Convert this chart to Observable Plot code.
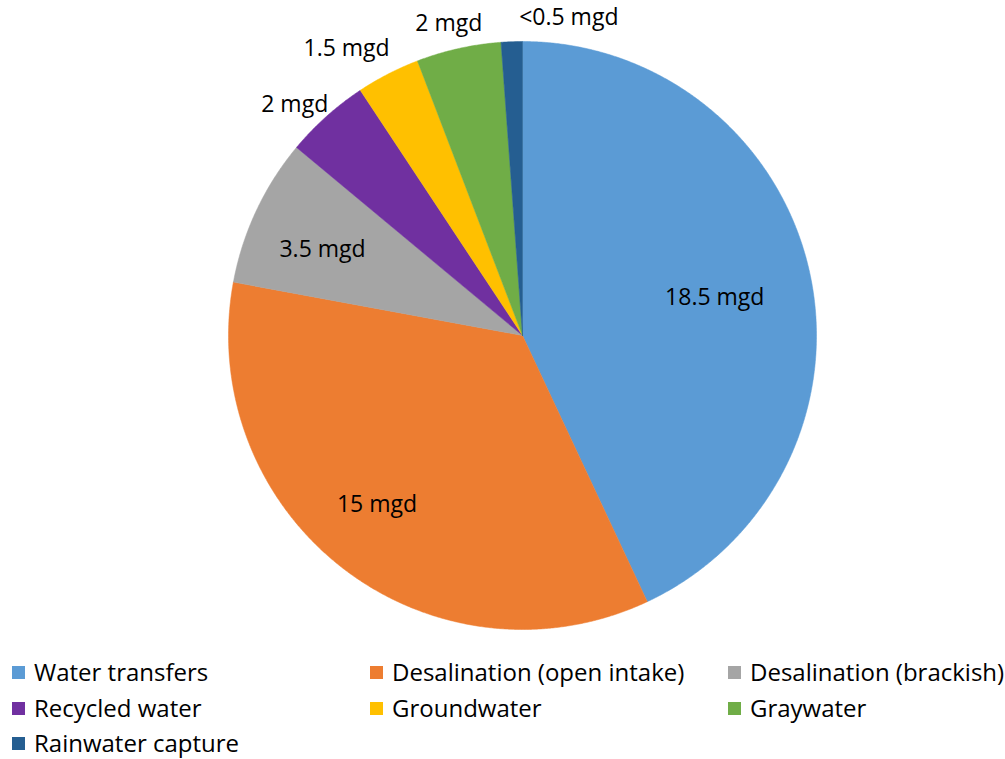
<!DOCTYPE html>
<html>
<head>
<meta charset="utf-8">
<script src="https://cdn.jsdelivr.net/npm/d3@7"></script>
<script src="https://cdn.jsdelivr.net/npm/@observablehq/plot@0.6"></script>
<style>
  html, body { margin: 0; padding: 0; background: #fff; }
  body { width: 1005px; font-family: "Open Sans", sans-serif; }
  #legend { position: relative; height: 109px; overflow: hidden; }
  .item { position: absolute; display: flex; align-items: center; font-size: 24px; line-height: 28px; height: 28px; color: #000; white-space: nowrap; }
  .sw { width: 13px; height: 13px; margin-right: 9px; flex: none; }
</style>
</head>
<body>
<div id="chart"></div>
<div id="legend"></div>
<script>
// ---- data ----
const categories = ["Water transfers", "Desalination (open intake)", "Desalination (brackish)", "Recycled water", "Groundwater", "Graywater", "Rainwater capture"];
const values = [18.5, 15, 3.5, 2, 1.5, 2, 0.5];
const labels = ["18.5 mgd", "15 mgd", "3.5 mgd", "2 mgd", "1.5 mgd", "2 mgd", "<0.5 mgd"];
const colors = ["#5B9BD5", "#ED7D31", "#A5A5A5", "#7030A0", "#FFC000", "#70AD47", "#255E91"];

// label layout: radius fraction and pixel nudges
const labelRadius = [0.67, 0.76, 0.74, 1.105, 1.145, 1.09, 1.09];
const labelNudge = [[0, 5], [-9, -8], [-3, 6], [-11, 11], [-22, 13], [-4, 1], [58, 2]];

// ---- geometry via d3.pie ----
const pie = d3.pie().sort(null).value(d => d)(values);
const pts = [];
pie.forEach((a, i) => {
  const name = categories[i];
  pts.push({name, x: 0, y: 0});
  const n = Math.max(4, Math.ceil((a.endAngle - a.startAngle) / 0.005));
  for (let k = 0; k <= n; k++) {
    const t = a.startAngle + (a.endAngle - a.startAngle) * k / n;
    pts.push({name, x: Math.sin(t), y: Math.cos(t)});
  }
  pts.push({name, x: 0, y: 0});
});

const labelMarks = pie.map((a, i) => {
  const mid = (a.startAngle + a.endAngle) / 2;
  const r = labelRadius[i];
  return Plot.text([{x: r * Math.sin(mid), y: r * Math.cos(mid), t: labels[i]}], {
    x: "x", y: "y", text: "t", fontSize: 23, fill: "#000",
    dx: labelNudge[i][0], dy: labelNudge[i][1]
  });
});

const chart = Plot.plot({
  width: 1005,
  height: 650,
  marginLeft: 228,
  marginRight: 189,
  marginTop: 41,
  marginBottom: 21,
  x: {domain: [-1, 1], axis: null},
  y: {domain: [-1, 1], axis: null},
  color: {domain: categories, range: colors},
  style: {fontFamily: "'Open Sans', sans-serif", background: "#fff", overflow: "visible"},
  marks: [
    Plot.line(pts, {x: "x", y: "y", z: "name", fill: "name", stroke: "name", strokeWidth: 0.5, curve: "linear"}),
    ...labelMarks
  ]
});
document.getElementById("chart").appendChild(chart);

// ---- legend ----
const legend = document.getElementById("legend");
const colX = [12, 370, 728];
const rowY = [22, 58, 93];
categories.forEach((c, i) => {
  const el = document.createElement("div");
  el.className = "item";
  el.style.left = colX[i % 3] + "px";
  el.style.top = (rowY[Math.floor(i / 3)] - 14) + "px";
  const sw = document.createElement("span");
  sw.className = "sw";
  sw.style.background = colors[i];
  const tx = document.createElement("span");
  tx.textContent = c;
  el.appendChild(sw);
  el.appendChild(tx);
  legend.appendChild(el);
});
</script>
</body>
</html>
